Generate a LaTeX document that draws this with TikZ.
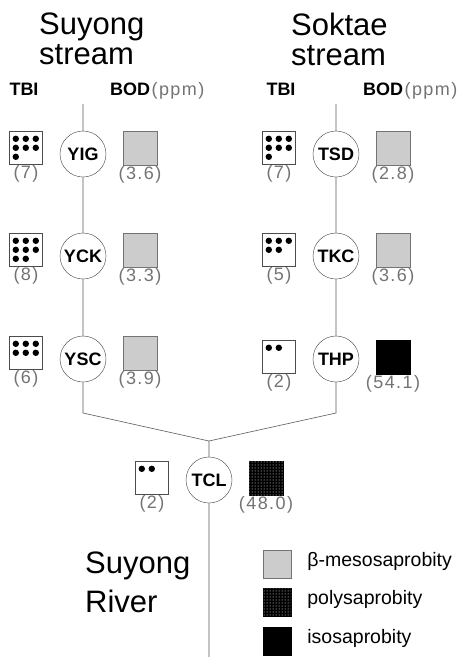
\documentclass[tikz,border=0pt]{standalone}
\usepackage{fontspec}
\setmainfont{Liberation Sans}
\newfontfamily\thinfont[LetterSpace=8]{Liberation Sans}
\usepackage{tikz}
\usetikzlibrary{patterns}

% dots of the TBI value, three to a row
\newcommand{\tbidots}[2]{%
  \foreach \k in {1,...,#2}{%
    \pgfmathtruncatemacro{\col}{mod(\k-1,3)}%
    \pgfmathtruncatemacro{\row}{(\k-1)/3}%
    \fill ([xshift=6.5pt+10pt*\col,yshift=-7.5pt-9pt*\row]#1.north west) circle (3.2pt);}}

\begin{document}
\begin{tikzpicture}[x=1pt,y=-1pt,node distance=57pt,label distance=1pt]
  \tikzstyle{site}=[circle,draw=black!75,fill=white,minimum size=46pt,inner sep=0pt,
                    font=\fontsize{18}{18}\selectfont\bfseries]
  \tikzstyle{tbibox}=[rectangle,draw=black!70,fill=white,minimum size=33pt,inner sep=0pt]
  \tikzstyle{bodbox}=[rectangle,draw=black!55,minimum size=34pt,inner sep=0pt]
  \tikzstyle{meso}=[bodbox,fill=black!20]
  \tikzstyle{poly}=[bodbox,draw=black,fill=black,postaction={pattern=dots,pattern color=white}]
  \tikzstyle{iso}=[bodbox,draw=black,fill=black]
  \tikzstyle{numlab}=[font=\thinfont\fontsize{18}{18}\selectfont,text=black!55,inner sep=0pt]
  \tikzstyle{every label}=[numlab]
  \tikzstyle{head}=[font=\fontsize{18}{18}\selectfont\bfseries,inner sep=0pt]
  \tikzstyle{title}=[font=\fontsize{31}{30}\selectfont,align=left,inner sep=0pt]
  \tikzstyle{legtext}=[font=\fontsize{19.5}{19.5}\selectfont,inner sep=0pt]
  \tikzstyle{river}=[draw=black!65,line width=0.6pt]

  \useasboundingbox (0,0) rectangle (476,657);

  % titles and headings
  \node[title,anchor=north west] (suyong) at (39,13) {Suyong\\stream};
  \node[title,anchor=north west] (soktae) at (291,13) {Soktae\\stream};
  \node[title,anchor=north west,font=\fontsize{31}{39}\selectfont] (river) at (85,552) {Suyong\\River};

  \node[head,anchor=base] (tbi-l) at (24,95) {TBI};
  \node[head,anchor=base west] (bod-l) at (110,95) {BOD};
  \node[numlab,anchor=base west,xshift=1pt] (ppm-l) at (bod-l.base east) {(ppm)};
  \node[head,anchor=base] (tbi-r) at (281,95) {TBI};
  \node[head,anchor=base west] (bod-r) at (363,95) {BOD};
  \node[numlab,anchor=base west,xshift=1pt] (ppm-r) at (bod-r.base east) {(ppm)};

  % stations
  \node[site] (yig) at (83,154) {YIG};
  \node[site] (yck) at (83,256) {YCK};
  \node[site] (ysc) at (83,359) {YSC};
  \node[site] (tsd) at (336,154) {TSD};
  \node[site] (tkc) at (336,256) {TKC};
  \node[site] (thp) at (336,359) {THP};
  \node[site] (tcl) at (209,480) {TCL};

  % streams
  \coordinate (ltop) at (83,104);
  \coordinate (rtop) at (336,104);
  \coordinate (lbend) at (83,413);
  \coordinate (rbend) at (336,413);
  \coordinate (join) at (209,441);
  \coordinate (mouth) at (209,657);
  \draw[river] (ltop) -- (yig) -- (yck) -- (ysc) -- (lbend) -- (join) -- (tcl) -- (mouth);
  \draw[river] (rtop) -- (tsd) -- (tkc) -- (thp) -- (rbend) -- (join);

  % TBI boxes
  \node[tbibox,left of=yig,yshift=6pt,label=below:(7)] (yig-tbi) {};
  \node[tbibox,left of=yck,yshift=6pt,label=below:(8)] (yck-tbi) {};
  \node[tbibox,left of=ysc,yshift=6pt,label=below:(6)] (ysc-tbi) {};
  \node[tbibox,left of=tsd,yshift=6pt,label=below:(7)] (tsd-tbi) {};
  \node[tbibox,left of=tkc,yshift=6pt,label=below:(5)] (tkc-tbi) {};
  \node[tbibox,left of=thp,yshift=2pt,label=below:(2)] (thp-tbi) {};
  \node[tbibox,left of=tcl,yshift=2pt,label=below:(2)] (tcl-tbi) {};
  \tbidots{yig-tbi}{7}
  \tbidots{yck-tbi}{8}
  \tbidots{ysc-tbi}{6}
  \tbidots{tsd-tbi}{7}
  \tbidots{tkc-tbi}{5}
  \tbidots{thp-tbi}{2}
  \tbidots{tcl-tbi}{2}

  % BOD boxes
  \node[meso,right of=yig,yshift=6pt,label=below:(3.6)] (yig-bod) {};
  \node[meso,right of=yck,yshift=6pt,label=below:(3.3)] (yck-bod) {};
  \node[meso,right of=ysc,yshift=6pt,label=below:(3.9)] (ysc-bod) {};
  \node[meso,right of=tsd,yshift=6pt,label=below:(2.8)] (tsd-bod) {};
  \node[meso,right of=tkc,yshift=6pt,label=below:(3.6)] (tkc-bod) {};
  \node[iso,right of=thp,yshift=2pt,label=below:(54.1)] (thp-bod) {};
  \node[poly,right of=tcl,yshift=2pt,label=below:(48.0)] (tcl-bod) {};

  % legend
  \node[meso,minimum size=28pt] (leg-meso) at (277,564) {};
  \node[poly,minimum size=28pt] (leg-poly) at (277,602) {};
  \node[iso,minimum size=28pt] (leg-iso) at (277,641) {};
  \node[legtext,anchor=mid west] (txt-meso) at ([xshift=16pt]leg-meso.east) {β-mesosaprobity};
  \node[legtext,anchor=mid west] (txt-poly) at ([xshift=16pt]leg-poly.east) {polysaprobity};
  \node[legtext,anchor=mid west] (txt-iso) at ([xshift=16pt]leg-iso.east) {isosaprobity};
\end{tikzpicture}
\end{document}
